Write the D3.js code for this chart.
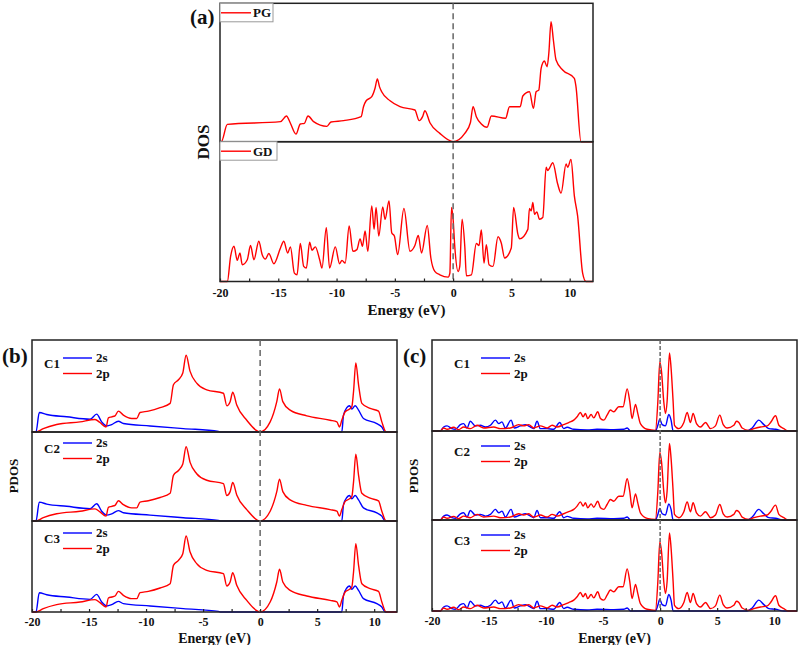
<!DOCTYPE html>
<html><head><meta charset="utf-8">
<script src="https://cdn.jsdelivr.net/npm/d3@7"></script>
<style>
body{margin:0;background:#fff}
svg{display:block}
text{font-family:"Liberation Serif","Times New Roman",serif;font-weight:bold;fill:#111}
</style>
</head><body><svg id="c" width="800" height="645"></svg>
<script>
// ---------- DATA ----------
const E_DOMAIN = [-20, 12];
const E_TICKS = [-20, -15, -10, -5, 0, 5, 10];
const E_MINOR = [-20,-17.5,-15,-12.5,-10,-7.5,-5,-2.5,0,2.5,5,7.5,10];

// (a) total DOS of PG  [Energy (eV), DOS (arb.)]
const pgDOS = [[-20,0],[-19.89,0],[-19.37,1.25],[-14.81,1.45],[-14.30,1.86],[-13.96,1.33],[-13.48,0.55],
[-13.11,1.28],[-12.76,1.33],[-12.45,1.86],[-11.97,1.45],[-10.83,1.11],[-10.48,1.42],[-9.40,1.52],
[-7.89,1.81],[-7.69,2.53],[-7.46,2.96],[-6.98,3.25],[-6.70,3.86],[-6.50,4.53],[-6.32,3.98],[-6.13,3.61],
[-5.41,2.96],[-4.56,2.53],[-3.28,2.29],[-2.91,1.52],[-2.62,1.81],[-2.42,2.24],[-1.99,1.37],[-1.14,0.60],
[0,0],[1.00,0.60],[1.48,1.37],[1.71,2.53],[1.99,1.81],[2.42,1.28],[2.91,1.04],[3.28,1.86],[4.50,1.69],
[4.84,2.53],[5.75,2.53],[5.98,3.30],[6.55,3.61],[6.89,2.41],[7.12,3.61],[7.35,3.73],[7.55,5.30],[7.83,5.83],
[8.06,5.42],[8.21,6.39],[8.40,8.67],[8.60,7.35],[8.83,5.90],[9.40,5.18],[10.40,4.58],[10.54,3.98],
[10.97,0],[12,0]];

// (a) total DOS of GD
const gdDOS = [[-20,0],[-19.37,0],[-19.09,1.80],[-18.80,2.52],[-18.52,1.51],[-18.29,2.04],[-18.09,1.20],
[-17.66,1.56],[-17.38,2.57],[-17.09,1.56],[-16.67,2.88],[-16.38,1.92],[-16.10,1.61],[-15.81,2.00],
[-15.38,1.27],[-14.81,2.40],[-14.53,2.88],[-14.19,2.04],[-13.96,2.48],[-13.62,0.60],[-13.39,0.48],
[-13.11,2.72],[-12.82,1.08],[-12.59,0.96],[-12.31,2.81],[-12.11,2.24],[-11.82,2.48],[-11.45,1.56],
[-11.25,0.96],[-10.88,3.85],[-10.60,0.96],[-10.11,2.48],[-9.74,1.27],[-9.54,1.51],[-9.26,1.32],
[-8.92,3.97],[-8.60,2.16],[-8.26,2.28],[-7.98,3.05],[-7.78,2.52],[-7.55,3.61],[-7.32,2.16],[-6.98,5.41],
[-6.78,3.73],[-6.61,5.29],[-6.38,3.25],[-6.04,5.34],[-5.84,4.45],[-5.50,5.77],[-5.27,3.49],[-5.04,3.25],
[-4.76,1.92],[-4.22,5.22],[-3.70,2.16],[-3.28,2.57],[-2.99,3.29],[-2.71,2.04],[-2.22,4.01],[-1.91,1.68],
[-1.57,0.72],[-1.14,0.48],[-0.43,0.31],[-0.28,0.60],[-0.14,5.29],[0,4.45],[0.14,2.52],[0.43,0.72],
[0.57,1.08],[0.77,4.45],[1.00,2.52],[1.14,0.41],[1.57,0.48],[1.99,2.72],[2.22,2.57],[2.42,3.68],
[2.65,1.32],[2.85,2.64],[3.08,1.20],[3.42,1.08],[3.85,3.20],[4.13,2.76],[4.42,1.68],[4.99,2.40],
[5.19,5.29],[5.56,3.37],[5.70,3.05],[6.41,3.73],[6.55,5.22],[6.70,5.05],[6.84,5.65],[6.98,4.81],
[7.18,4.98],[7.41,4.45],[7.69,4.57],[7.98,8.17],[8.12,7.93],[8.26,8.10],[8.55,8.49],[8.97,6.97],
[9.26,6.32],[9.69,8.41],[9.83,8.17],[10.11,8.73],[10.40,6.13],[10.68,4.69],[11.11,0.60],[11.40,0],[12,0]];

// (b) PDOS of PG atoms C1/C2/C3 (identical in the figure)
const pg2p = [[-20,0],[-19.65,0],[-19.01,0.37],[-17.84,0.81],[-15.79,1.10],[-14.47,1.36],[-14.04,1.03],
[-13.51,0.55],[-13.30,1.54],[-13.01,1.65],[-12.72,1.76],[-12.43,2.27],[-11.99,1.83],[-11.26,1.47],
[-10.82,1.47],[-10.53,2.12],[-9.80,2.27],[-8.77,2.64],[-7.89,3.11],[-7.60,5.13],[-7.16,5.68],[-6.78,6.41],
[-6.49,8.35],[-6.14,6.59],[-5.56,5.31],[-4.68,4.58],[-3.22,4.21],[-2.92,2.86],[-2.63,3.30],[-2.40,4.32],
[-2.05,2.93],[-1.17,1.28],[0,0],[0.88,1.10],[1.46,3.30],[1.70,4.69],[1.99,3.30],[2.63,2.38],[4.09,1.76],
[6.14,1.28],[6.73,1.10],[6.96,0.55],[7.16,1.28],[7.46,2.20],[7.84,2.49],[8.04,2.75],[8.19,4.40],[8.39,7.51],
[8.63,5.13],[8.92,3.11],[9.65,2.56],[10.38,2.27],[10.67,1.10],[11.05,0],[12,0]];
const pg2s = [[-20,0],[-19.65,0],[-19.36,2.12],[-18.71,1.90],[-16.96,1.65],[-14.91,1.39],[-14.33,1.94],
[-13.89,1.10],[-13.45,0.66],[-13.01,0.81],[-12.43,1.17],[-11.99,0.92],[-9.65,0.66],[-6.73,0.37],
[-3.65,0.07],[-3.5,0],[7.16,0],[7.31,1.83],[7.60,2.64],[7.84,2.86],[8.04,2.49],[8.33,2.86],[8.63,2.38],
[9.06,1.47],[10.23,0.92],[10.67,0.55],[10.96,0],[12,0]];

// (c) PDOS of GD atoms C1/C2/C3 (identical in the figure)
const gd2p = [[-20,0],[-19.27,0],[-18.98,0.33],[-18.68,0.19],[-18.10,0.41],[-17.66,0.15],[-17.22,0.44],
[-16.64,0.26],[-16.05,0.63],[-15.47,0.33],[-14.59,0.44],[-14.01,0.26],[-13.13,0.33],[-12.40,0.70],
[-11.96,0.56],[-11.52,0.70],[-11.08,0.33],[-10.50,0.56],[-9.91,0.33],[-9.47,0.63],[-9.04,0.44],
[-8.45,0.70],[-8.01,0.93],[-7.57,1.19],[-7.28,1.56],[-6.99,2.04],[-6.75,1.56],[-6.55,1.93],[-6.35,1.37],
[-6.05,1.81],[-5.82,1.44],[-5.47,2.11],[-5.23,1.37],[-4.94,1.19],[-4.65,1.74],[-4.36,2.30],[-4.06,2.11],
[-3.63,2.67],[-3.25,2.67],[-2.89,4.63],[-2.66,3.22],[-2.46,1.37],[-2.16,2.93],[-1.96,1.93],[-1.73,0.81],
[-1.14,0.19],[-0.41,0.07],[-0.20,3.22],[-0.03,7.59],[0.12,6.56],[0.32,3.22],[0.47,1.93],[0.61,3.22],
[0.82,8.59],[0.96,6.93],[1.14,3.22],[1.26,0.63],[1.64,0.26],[2.08,0.93],[2.37,2.04],[2.66,0.93],
[2.89,1.93],[3.19,0.81],[3.54,0.44],[3.98,0.93],[4.42,0.26],[4.85,0.56],[5.23,1.74],[5.53,0.70],
[5.88,0.33],[6.46,0.63],[6.70,1.07],[6.90,0.93],[7.19,0.33],[7.78,0.07],[8.22,0.26],[8.80,0.44],
[9.39,0.56],[9.68,0.93],[10.12,1.67],[10.41,0.63],[10.85,0.26],[11.20,0],[12,0]];
const gd2s = [[-20,0],[-19.27,0],[-18.98,0.44],[-18.68,0.56],[-18.25,0.26],[-17.95,0.19],[-17.51,0.70],
[-17.22,0.81],[-16.93,0.33],[-16.64,1.07],[-16.20,0.56],[-15.76,0.63],[-15.32,0.44],[-14.88,0.63],
[-14.44,1.19],[-14.15,0.81],[-13.86,1.00],[-13.57,0.33],[-13.07,1.19],[-12.78,0.33],[-12.25,0.56],
[-11.81,0.70],[-11.37,0.44],[-11.08,0.26],[-10.79,1.07],[-10.50,0.26],[-9.91,0.26],[-9.33,0.19],
[-8.80,0.93],[-8.45,0.26],[-8.16,0.41],[-7.57,0.19],[-6.40,0.11],[-5.53,0.19],[-4.06,0.15],[-3.19,0.19],
[-2.89,0.33],[-2.60,0],[-0.41,0],[-0.20,0.63],[-0.03,1.30],[0.18,0.70],[0.47,0.56],[0.76,1.81],
[0.96,1.19],[1.14,0],[7.63,0],[8.07,0.33],[8.65,1.19],[9.09,0.70],[9.53,0.26],[10.12,0.19],[10.85,0],[12,0]];

const atomLabels = ["C1", "C2", "C3"];
const RED = "#ff0000", BLUE = "#0000ff";

// ---------- DRAW ----------
const svg = d3.select("#c");
const fmt = d => String(d);

function drawPanel(p) {
  const x = d3.scaleLinear().domain(E_DOMAIN).range([p.left, p.right]);
  const g = svg.append("g");
  const bottom = p.subs[p.subs.length - 1].bottom;
  const top = p.subs[0].top;
  p.subs.forEach(s => {
    const y = d3.scaleLinear().domain([0, 10]).range([s.bottom, s.top]);
    const line = d3.line().x(d => x(d[0])).y(d => y(d[1])).curve(d3.curveMonotoneX);
    s.series.forEach(se => {
      g.append("path").datum(se.data).attr("d", line)
        .attr("fill", "none").attr("stroke", se.color).attr("stroke-width", 1.4)
        .attr("stroke-linejoin", "round");
    });
    g.append("rect").attr("x", p.left).attr("y", s.top)
      .attr("width", p.right - p.left).attr("height", s.bottom - s.top)
      .attr("fill", "none").attr("stroke", "#222").attr("stroke-width", 1.5);
    if (s.legend) s.legend(g, s);
  });
  // dashed Fermi level
  g.append("line").attr("x1", x(0)).attr("x2", x(0)).attr("y1", top).attr("y2", bottom)
    .attr("stroke", "#666").attr("stroke-width", 1.5).attr("stroke-dasharray", p.dash);
  // minor inward ticks
  const ax1 = g.append("g").attr("transform", `translate(0,${bottom})`)
    .call(d3.axisBottom(x).tickValues(E_MINOR).tickSize(-3).tickFormat(""));
  ax1.select(".domain").remove();
  ax1.selectAll("line").attr("stroke", "#222").attr("stroke-width", 1.2);
  const ax2 = g.append("g").attr("transform", `translate(0,${bottom})`)
    .call(d3.axisBottom(x).tickValues(E_TICKS).tickSize(0).tickPadding(p.tickPad).tickFormat(fmt));
  ax2.select(".domain").remove();
  ax2.selectAll("text").attr("font-size", 12).attr("font-family", '"Liberation Serif",serif')
    .attr("font-weight", "bold").attr("fill", "#111");
  // axis title
  g.append("text").attr("x", (p.left + p.right) / 2).attr("y", p.xTitleY)
    .attr("text-anchor", "middle").attr("font-size", p.xTitleSize).text("Energy (eV)");
  g.append("text").attr("transform", `translate(${p.yTitleX},${p.yTitleY}) rotate(-90)`)
    .attr("text-anchor", "middle").attr("font-size", p.yTitleSize).text(p.yTitle);
  g.append("text").attr("x", p.tagX).attr("y", p.tagY).attr("font-size", 21).text(p.tag);
}

function boxLegend(name, w) {
  return (g, s) => {
    g.append("rect").attr("x", 220).attr("y", s.top).attr("width", w).attr("height", 18.5)
      .attr("fill", "#fff").attr("stroke", "#999").attr("stroke-width", 1);
    g.append("line").attr("x1", 221).attr("x2", 251).attr("y1", s.top + 9.5).attr("y2", s.top + 9.5)
      .attr("stroke", RED).attr("stroke-width", 1.4);
    g.append("text").attr("x", 253).attr("y", s.top + 14).attr("font-size", 13).text(name);
  };
}

function atomLegend(label, lx, lineX, off) {
  return (g, s) => {
    const yb = s.top + off;
    g.append("text").attr("x", lx).attr("y", yb + 10).attr("font-size", 13).text(label);
    g.append("line").attr("x1", lineX).attr("x2", lineX + 29).attr("y1", yb).attr("y2", yb)
      .attr("stroke", BLUE).attr("stroke-width", 1.4);
    g.append("line").attr("x1", lineX).attr("x2", lineX + 29).attr("y1", yb + 15.5).attr("y2", yb + 15.5)
      .attr("stroke", RED).attr("stroke-width", 1.4);
    g.append("text").attr("x", lineX + 33).attr("y", yb + 4).attr("font-size", 13).text("2s");
    g.append("text").attr("x", lineX + 33).attr("y", yb + 20).attr("font-size", 13).text("2p");
  };
}

// Panel (a)
drawPanel({
  left: 220, right: 593, dash: "6,4", tickPad: 7, xTitleY: 315, xTitleSize: 15,
  yTitle: "DOS", yTitleX: 209, yTitleY: 142, yTitleSize: 17,
  tag: "(a)", tagX: 190, tagY: 24,
  subs: [
    {top: 3.3, bottom: 141.7, series: [{data: pgDOS, color: RED}], legend: boxLegend("PG", 53)},
    {top: 141.7, bottom: 281.5, series: [{data: gdDOS, color: RED}], legend: boxLegend("GD", 57)}
  ]
});

// Panel (b)
const bTops = [340, 432, 521], bBottoms = [432, 521, 612], bOff = [18, 11, 12];
drawPanel({
  left: 32, right: 397, dash: "6,4", tickPad: 5, xTitleY: 643, xTitleSize: 14,
  yTitle: "PDOS", yTitleX: 18, yTitleY: 476, yTitleSize: 13,
  tag: "(b)", tagX: 2, tagY: 363,
  subs: atomLabels.map((lab, i) => ({
    top: bTops[i], bottom: bBottoms[i],
    series: [{data: pg2s, color: BLUE}, {data: pg2p, color: RED}],
    legend: atomLegend(lab, 44, 63, bOff[i])
  }))
});

// Panel (c)
const cTops = [340, 431, 520], cBottoms = [431, 520, 611], cOff = [18, 15, 15];
drawPanel({
  left: 432, right: 797, dash: "4,2", tickPad: 5, xTitleY: 643, xTitleSize: 14,
  yTitle: "PDOS", yTitleX: 418, yTitleY: 476, yTitleSize: 13,
  tag: "(c)", tagX: 403, tagY: 363,
  subs: atomLabels.map((lab, i) => ({
    top: cTops[i], bottom: cBottoms[i],
    series: [{data: gd2s, color: BLUE}, {data: gd2p, color: RED}],
    legend: atomLegend(lab, 454, 481, cOff[i])
  }))
});
</script></body></html>
